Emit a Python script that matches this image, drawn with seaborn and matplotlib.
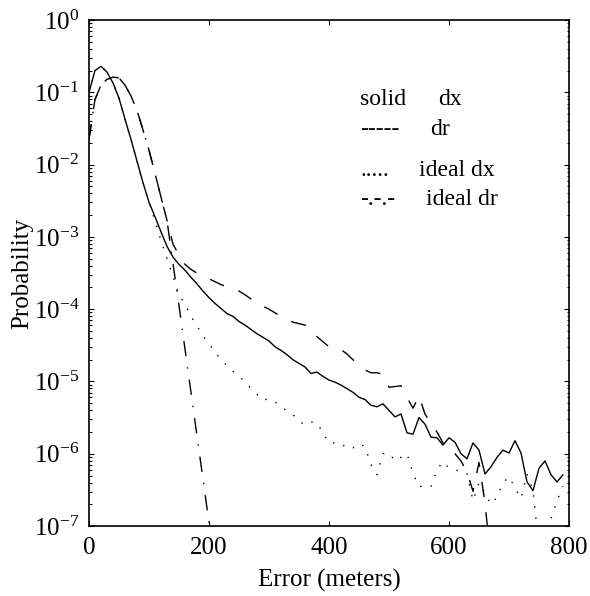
import matplotlib
matplotlib.use("Agg")
from matplotlib import pyplot as plt
from matplotlib.ticker import LogLocator, FixedLocator, NullFormatter
import seaborn as sns
import numpy as np
import pandas as pd

# 値は対数軸から読み取った log10(確率)
dist_dx = np.arange(0, 800, 10)
dx_log10 = [-1.0, -0.7, -0.64, -0.72, -0.87, -1.08, -1.37, -1.65, -1.95, -2.25,
            -2.52, -2.72, -2.93, -3.13, -3.28, -3.38, -3.46, -3.56, -3.65, -3.75,
            -3.84, -3.92, -3.99, -4.06, -4.1, -4.17, -4.22, -4.28, -4.34, -4.39,
            -4.44, -4.52, -4.57, -4.63, -4.7, -4.75, -4.8, -4.89, -4.87, -4.93,
            -4.98, -5.01, -5.05, -5.1, -5.15, -5.22, -5.25, -5.33, -5.35, -5.31,
            -5.4, -5.49, -5.45, -5.71, -5.73, -5.5, -5.59, -5.77, -5.78, -5.88,
            -5.78, -5.84, -6.0, -6.07, -5.85, -5.95, -6.28, -6.18, -6.05, -5.95,
            -5.99, -5.82, -5.99, -6.39, -6.51, -6.2, -6.1, -6.29, -6.39, -6.29]

dist_dr = np.arange(0, 680, 10)
dr_log10 = [-1.65, -1.1, -0.9, -0.82, -0.79, -0.8, -0.9, -1.05, -1.25, -1.52,
            -1.8, -2.12, -2.45, -2.77, -3.1, -3.25, -3.38, -3.45, -3.5, -3.54,
            -3.58, -3.62, -3.66, -3.69, -3.72, -3.75, -3.8, -3.86, -3.92, -3.96,
            -4.0, -4.05, -4.1, -4.14, -4.18, -4.2, -4.22, -4.27, -4.38, -4.45,
            -4.52, -4.54, -4.56, -4.62, -4.7, -4.76, -4.84, -4.88, -4.88, -4.9,
            -5.08, -5.07, -5.06, -5.22, -5.37, -5.2, -5.45, -5.58, -5.7, -5.85,
            -5.95, -6.0, -6.1, -6.25, -6.52, -6.12, -6.68, -7.5]

dist_idx = np.arange(0, 800, 10)
ideal_dx_log10 = [-1.0, -0.7, -0.64, -0.72, -0.87, -1.08, -1.37, -1.65, -1.95, -2.25,
                  -2.52, -2.78, -3.05, -3.3, -3.55, -3.8, -3.93, -4.1, -4.23, -4.37,
                  -4.48, -4.59, -4.7, -4.78, -4.86, -4.93, -5.0, -5.1, -5.18, -5.26,
                  -5.24, -5.28, -5.36, -5.4, -5.46, -5.55, -5.6, -5.56, -5.57, -5.71,
                  -5.85, -5.85, -5.85, -5.93, -5.92, -5.86, -5.9, -6.15, -6.29, -6.0,
                  -5.99, -6.1, -6.05, -6.0, -6.27, -6.46, -6.43, -6.45, -6.22, -6.11,
                  -6.2, -6.22, -6.25, -6.27, -6.65, -6.4, -6.55, -6.7, -6.6, -6.4,
                  -6.32, -6.47, -6.62, -6.28, -6.5, -7.3, -7.3, -6.9, -6.65, -6.45]

dist_idr = np.arange(0, 220, 10)
ideal_dr_log10 = [-1.65, -1.1, -0.9, -0.82, -0.79, -0.8, -0.9, -1.05, -1.25, -1.52,
                  -1.8, -2.12, -2.45, -2.77, -3.37, -3.95, -4.55, -5.15, -5.75, -6.35,
                  -6.95, -7.6]

legend_keys = ["solid", "-----", ".....", "-.-.-"]
legend_names = ["dx", "dr", "ideal dx", "ideal dr"]

sns.set_theme(style="ticks")
plt.rcParams["font.family"] = ["Liberation Serif", "DejaVu Serif"]
plt.rcParams["mathtext.fontset"] = "custom"
plt.rcParams["mathtext.rm"] = "Liberation Serif"
plt.rcParams["mathtext.default"] = "regular"
plt.rcParams["axes.unicode_minus"] = False
for key in ["text.color", "axes.labelcolor", "xtick.color", "ytick.color", "axes.edgecolor"]:
    plt.rcParams[key] = "black"

fig = plt.figure(figsize=(5.9, 5.96), dpi=100)
ax = fig.add_axes([0.1508, 0.1174, 0.8136, 0.849])

series = [
    (dist_dx, dx_log10, "-"),
    (dist_dr, dr_log10, (0, (11, 11))),
    (dist_idx, ideal_dx_log10, (0, (1, 7))),
    (dist_idr, ideal_dr_log10, (0, (11, 8, 1, 8))),
]
for xs, ls_log, style in series:
    df = pd.DataFrame({"x": xs, "p": 10.0 ** np.array(ls_log)})
    sns.lineplot(data=df, x="x", y="p", ax=ax, color="black", lw=1.0,
                 linestyle=style, estimator=None, sort=False)

ax.set_yscale("log")
ax.set_xlim(0, 800)
ax.set_ylim(1e-7, 1)
ax.xaxis.set_major_locator(FixedLocator([0, 200, 400, 600, 800]))
ax.yaxis.set_major_locator(LogLocator(base=10, numticks=20))
ax.yaxis.set_minor_locator(LogLocator(base=10, subs=np.arange(2, 10), numticks=20))
ax.yaxis.set_minor_formatter(NullFormatter())
ax.tick_params(which="both", direction="in", top=True, right=True,
               labelsize=18, width=0.8, color="black", labelcolor="black")
ax.tick_params(which="major", length=3.5)
ax.tick_params(which="minor", length=1.8)
ax.tick_params(axis="y", pad=7)
ax.tick_params(axis="x", pad=8)
for s in ax.spines.values():
    s.set_linewidth(1.2)
    s.set_color("black")

ax.set_xlabel("Error (meters)", fontsize=18, labelpad=7)
ax.set_ylabel("Probability", fontsize=18, labelpad=0)

# 凡例は文字で配置
key_y = [0.832, 0.773, 0.692, 0.634]
name_x = [0.727, 0.710, 0.6875, 0.702]
for k, n, yy, nx in zip(legend_keys, legend_names, key_y, name_x):
    ax.text(0.565, yy, k, transform=ax.transAxes, fontsize=17, va="baseline")
    ax.text(nx, yy, n, transform=ax.transAxes, fontsize=17, va="baseline")

plt.savefig("out.png", dpi=100)
